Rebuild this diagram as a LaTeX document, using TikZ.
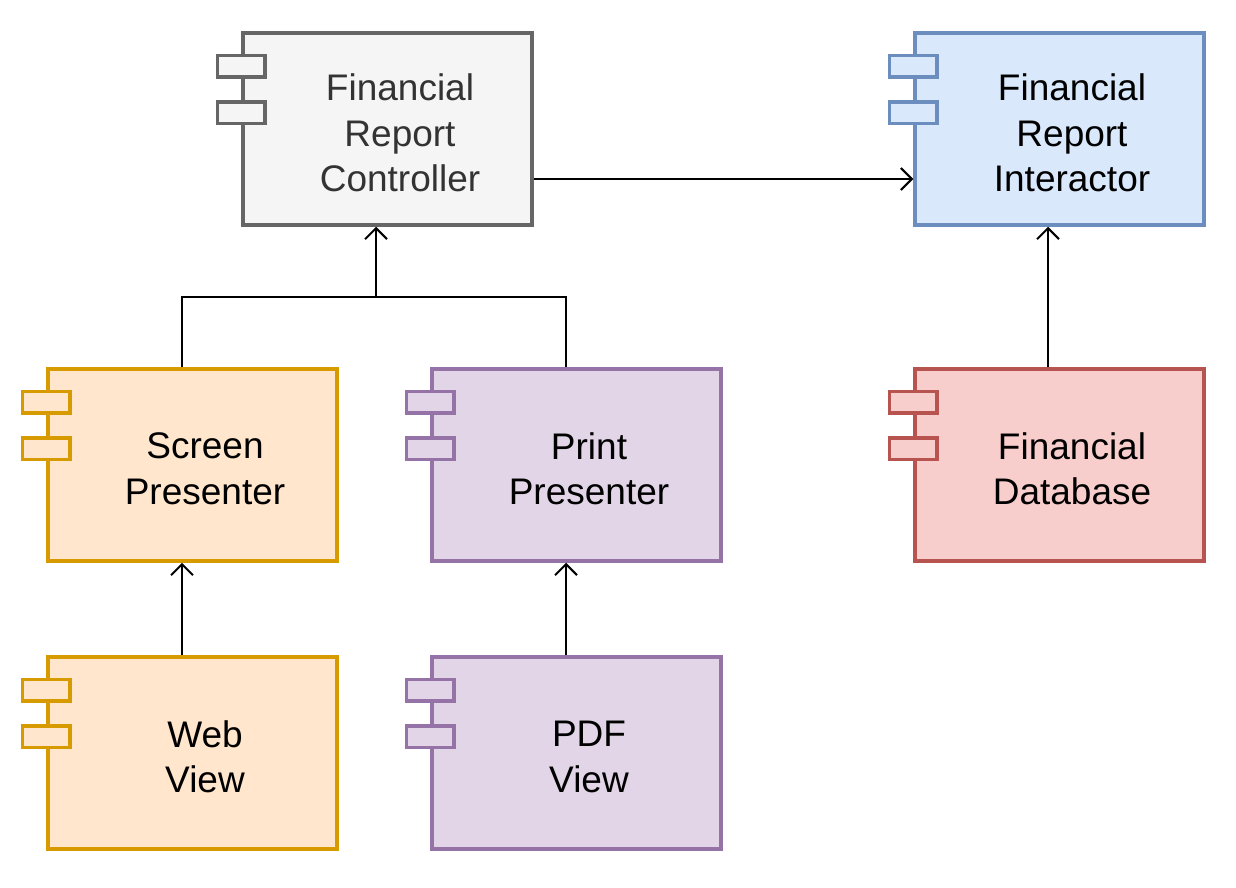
\documentclass[tikz,border=0pt]{standalone}
\usepackage{fontspec}
\setmainfont{Liberation Sans}
\usetikzlibrary{arrows.meta,calc}

\definecolor{grayfill}{HTML}{F5F5F5}\definecolor{graystroke}{HTML}{666666}\definecolor{graytext}{HTML}{333333}
\definecolor{bluefill}{HTML}{DAE8FC}\definecolor{bluestroke}{HTML}{6C8EBF}
\definecolor{orangefill}{HTML}{FFE6CC}\definecolor{orangestroke}{HTML}{D79B00}
\definecolor{purplefill}{HTML}{E1D5E7}\definecolor{purplestroke}{HTML}{9673A6}
\definecolor{redfill}{HTML}{F8CECC}\definecolor{redstroke}{HTML}{B85450}

\tikzset{
  compbody/.style={rectangle, line width=3.5pt, minimum width=289pt, minimum height=192pt, inner sep=0pt},
  compport/.style={rectangle, line width=3.5pt, minimum width=47.5pt, minimum height=21.5pt, inner sep=0pt},
  complabel/.style={align=center, font=\fontsize{37}{45.5}\selectfont, inner sep=0pt},
  graycomp/.style={draw=graystroke, fill=grayfill},
  bluecomp/.style={draw=bluestroke, fill=bluefill},
  orangecomp/.style={draw=orangestroke, fill=orangefill},
  purplecomp/.style={draw=purplestroke, fill=purplefill},
  redcomp/.style={draw=redstroke, fill=redfill},
  dep/.style={line width=2pt, -{Straight Barb[length=11pt, width=22pt, line width=2pt]}},
  link/.style={line width=2pt},
}

% component: name, centre x, centre y, colour style, text colour, text
\newcommand\umlcomponent[6]{%
  \node[compbody, #4] (#1) at (#2,#3) {};
  \node[compport, #4] (#1-p1) at ([yshift=-35pt]#1.north west) {};
  \node[compport, #4] (#1-p2) at ([yshift=-81.5pt]#1.north west) {};
  \node[complabel, text=#5] (#1-t) at ([xshift=12.5pt, yshift=-4pt]#1.center) {#6};
}

\begin{document}
\begin{tikzpicture}[x=1pt, y=-1pt]
\useasboundingbox (0,0) rectangle (1236,888);

\umlcomponent{ctl}{387.5}{129}{graycomp}{graytext}{Financial\\Report\\Controller}
\umlcomponent{itr}{1059.5}{129}{bluecomp}{black}{Financial\\Report\\Interactor}
\umlcomponent{scr}{192.5}{465}{orangecomp}{black}{Screen\\Presenter}
\umlcomponent{prt}{576.5}{465}{purplecomp}{black}{Print\\Presenter}
\umlcomponent{fdb}{1059.5}{465}{redcomp}{black}{Financial\\Database}
\umlcomponent{web}{192.5}{753}{orangecomp}{black}{Web\\View}
\umlcomponent{pdf}{576.5}{753}{purplecomp}{black}{PDF\\View}

% controller -> interactor
\draw[dep] ([yshift=-50pt]ctl.east) -- ([yshift=-50pt]itr.west);

% both presenters merge and point to the controller
\coordinate (join) at (376,297);
\draw[link] ([xshift=-10.5pt]scr.north) |- (join) -| ([xshift=-10.5pt]prt.north);
\draw[dep] (join) -- (join |- ctl.south);

% views -> presenters
\draw[dep] ([xshift=-10.5pt]web.north) -- ([xshift=-10.5pt]scr.south);
\draw[dep] ([xshift=-10.5pt]pdf.north) -- ([xshift=-10.5pt]prt.south);

% database -> interactor
\draw[dep] ([xshift=-11.5pt]fdb.north) -- ([xshift=-11.5pt]itr.south);
\end{tikzpicture}
\end{document}
